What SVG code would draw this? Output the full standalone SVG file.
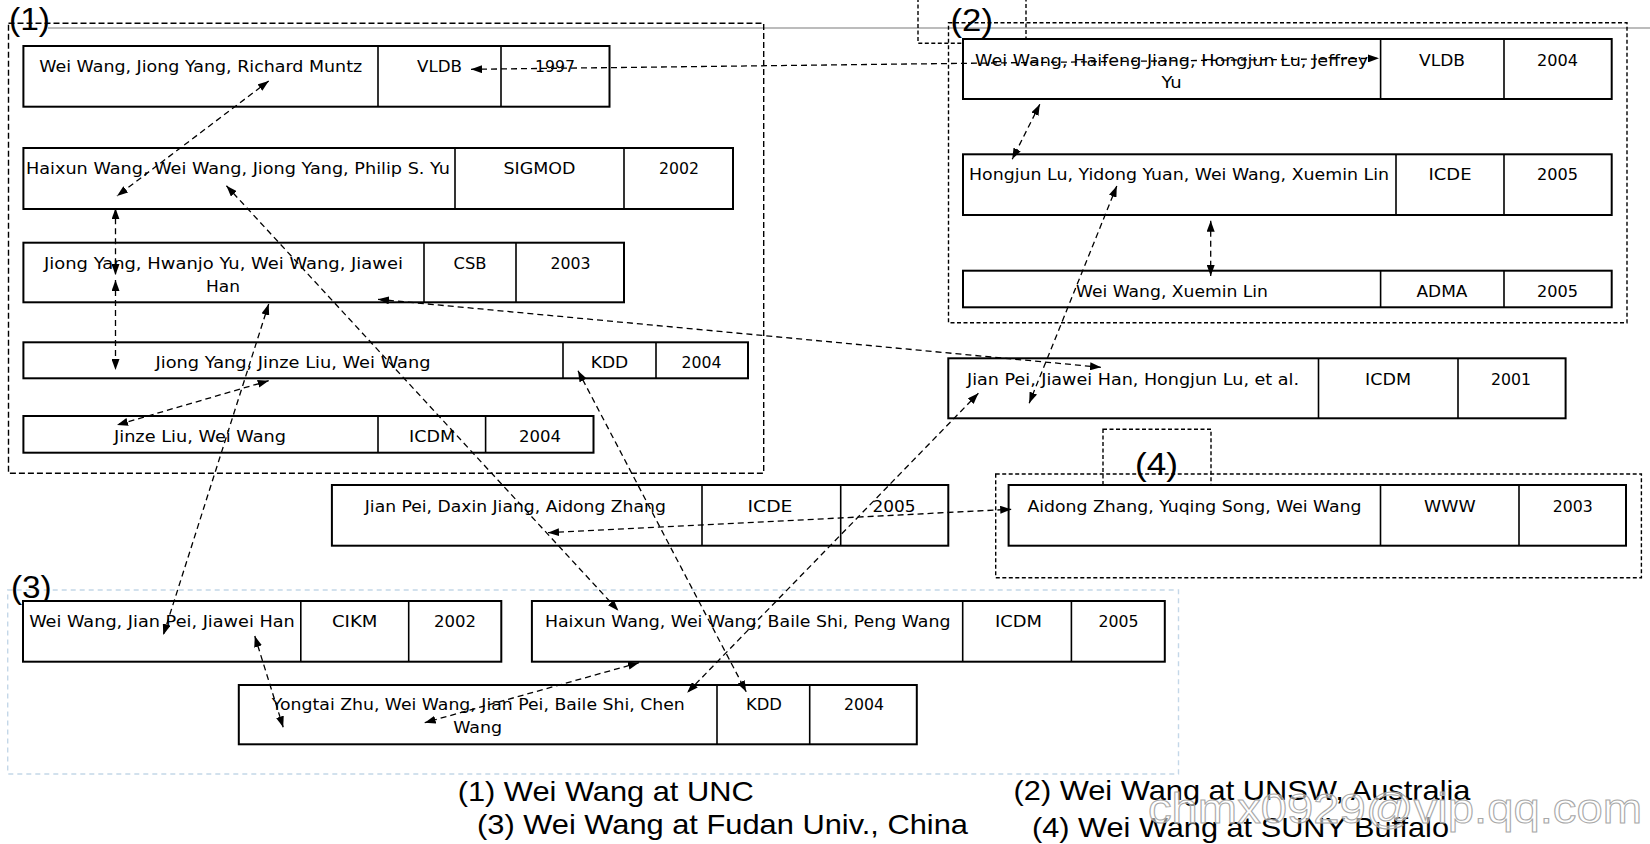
<svg xmlns="http://www.w3.org/2000/svg" width="1650" height="844" viewBox="0 0 1650 844">
<style>
.bg{fill:#fff}
.box{fill:#fff;stroke:#000;stroke-width:2}
.dv{stroke:#000;stroke-width:1.6}
.t{font-family:"DejaVu Sans",Verdana,sans-serif;font-size:16.5px;fill:#000;text-anchor:middle}
.lab{font-family:"Liberation Sans",Arial,sans-serif;font-size:31px;fill:#000}
.cap{font-family:"Liberation Sans",Arial,sans-serif;font-size:28px;fill:#000}
.reg{fill:none;stroke:#000;stroke-width:1.4;stroke-dasharray:6 3}
.reg2{fill:none;stroke:#000;stroke-width:1.4;stroke-dasharray:4 2.5}
.reg3{fill:none;stroke:#c4d7e8;stroke-width:1.4;stroke-dasharray:5 4}
.conn{fill:none;stroke:#000;stroke-width:1.3;stroke-dasharray:6 4;marker-start:url(#ah);marker-end:url(#ah)}
.wm{font-family:"Liberation Sans",Arial,sans-serif;font-size:42px;fill:#ffffff;fill-opacity:0.55;stroke:#a8a8a8;stroke-width:1}
</style>
<defs>
<marker id="ah" viewBox="0 0 11 8" refX="11" refY="4" markerWidth="11" markerHeight="8" markerUnits="userSpaceOnUse" orient="auto-start-reverse">
<path d="M0,0 L11,4 L0,8 z" fill="#000"/>
</marker>
</defs>
<rect class="bg" x="0" y="0" width="1650" height="844"/>
<line x1="48" y1="28" x2="1650" y2="28" stroke="#bcbcbc" stroke-width="2"/>

<g id="region1">
<rect class="reg" x="8.5" y="23.3" width="755.2" height="450"/>
<text class="lab" x="9" y="30" textLength="41" lengthAdjust="spacingAndGlyphs">(1)</text>
</g>
<g id="region2">
<rect class="reg2" x="948.5" y="22.7" width="678.5" height="300"/>
<rect class="reg2" x="918" y="-5" width="108" height="48.3"/>
<text class="lab" x="950.5" y="31" textLength="42.5" lengthAdjust="spacingAndGlyphs">(2)</text>
</g>
<g id="region3">
<rect class="reg3" x="7.7" y="590" width="1170.8" height="184"/>
<text class="lab" x="11" y="598" textLength="40.7" lengthAdjust="spacingAndGlyphs">(3)</text>
</g>
<g id="region4">
<rect class="reg2" x="995.7" y="474" width="645.7" height="103.7"/>
<rect class="reg2" x="1103" y="429.3" width="108" height="56.4"/>
<text class="lab" x="1135" y="475" textLength="43" lengthAdjust="spacingAndGlyphs">(4)</text>
</g>

<g id="n1">
<rect class="box" x="23.4" y="46" width="586.1" height="60.7"/>
<line class="dv" x1="378" y1="46" x2="378" y2="106.7"/>
<line class="dv" x1="501" y1="46" x2="501" y2="106.7"/>
<text class="t" x="200.7" y="71.5" textLength="323" lengthAdjust="spacingAndGlyphs">Wei Wang, Jiong Yang, Richard Muntz</text>
<text class="t" x="439.5" y="71.5" textLength="45" lengthAdjust="spacingAndGlyphs">VLDB</text>
<text class="t" x="555" y="71.5" textLength="40" lengthAdjust="spacingAndGlyphs">1997</text>
</g>
<g id="n2">
<rect class="box" x="23.4" y="148" width="709.6" height="61"/>
<line class="dv" x1="455" y1="148" x2="455" y2="209"/>
<line class="dv" x1="624" y1="148" x2="624" y2="209"/>
<text class="t" x="238" y="174" textLength="424" lengthAdjust="spacingAndGlyphs">Haixun Wang, Wei Wang, Jiong Yang, Philip S. Yu</text>
<text class="t" x="539.5" y="174" textLength="72" lengthAdjust="spacingAndGlyphs">SIGMOD</text>
<text class="t" x="679" y="174" textLength="40" lengthAdjust="spacingAndGlyphs">2002</text>
</g>
<g id="n3">
<rect class="box" x="23.4" y="242.7" width="600.6" height="59.6"/>
<line class="dv" x1="424" y1="242.7" x2="424" y2="302.3"/>
<line class="dv" x1="516" y1="242.7" x2="516" y2="302.3"/>
<text class="t" x="223.5" y="269" textLength="359" lengthAdjust="spacingAndGlyphs">Jiong Yang, Hwanjo Yu, Wei Wang, Jiawei</text>
<text class="t" x="223" y="292" textLength="34" lengthAdjust="spacingAndGlyphs">Han</text>
<text class="t" x="470" y="269" textLength="33" lengthAdjust="spacingAndGlyphs">CSB</text>
<text class="t" x="570.5" y="269" textLength="40" lengthAdjust="spacingAndGlyphs">2003</text>
</g>
<g id="n4">
<rect class="box" x="23.4" y="342.3" width="724.6" height="36"/>
<line class="dv" x1="563" y1="342.3" x2="563" y2="378.3"/>
<line class="dv" x1="656" y1="342.3" x2="656" y2="378.3"/>
<text class="t" x="293" y="367.7" textLength="275" lengthAdjust="spacingAndGlyphs">Jiong Yang, Jinze Liu, Wei Wang</text>
<text class="t" x="609.5" y="367.7" textLength="37.5" lengthAdjust="spacingAndGlyphs">KDD</text>
<text class="t" x="701.5" y="367.7" textLength="40" lengthAdjust="spacingAndGlyphs">2004</text>
</g>
<g id="n5">
<rect class="box" x="23.4" y="416" width="570.1" height="36.7"/>
<line class="dv" x1="378" y1="416" x2="378" y2="452.7"/>
<line class="dv" x1="485.6" y1="416" x2="485.6" y2="452.7"/>
<text class="t" x="200" y="442.3" textLength="172" lengthAdjust="spacingAndGlyphs">Jinze Liu, Wei Wang</text>
<text class="t" x="432" y="442.3" textLength="46" lengthAdjust="spacingAndGlyphs">ICDM</text>
<text class="t" x="540" y="442.3" textLength="42" lengthAdjust="spacingAndGlyphs">2004</text>
</g>

<g id="n6">
<rect class="box" x="963" y="39" width="648.7" height="60"/>
<line class="dv" x1="1380.6" y1="39" x2="1380.6" y2="99"/>
<line class="dv" x1="1504" y1="39" x2="1504" y2="99"/>
<text class="t" x="1171.6" y="65.5" textLength="393" lengthAdjust="spacingAndGlyphs">Wei Wang, Haifeng Jiang, Hongjun Lu, Jeffrey</text>
<text class="t" x="1171.6" y="87.5" textLength="20.4" lengthAdjust="spacingAndGlyphs">Yu</text>
<text class="t" x="1442" y="65.5" textLength="46" lengthAdjust="spacingAndGlyphs">VLDB</text>
<text class="t" x="1557.6" y="65.5" textLength="41" lengthAdjust="spacingAndGlyphs">2004</text>
</g>
<g id="n7">
<rect class="box" x="963" y="154.3" width="648.7" height="60.7"/>
<line class="dv" x1="1396" y1="154.3" x2="1396" y2="215"/>
<line class="dv" x1="1504" y1="154.3" x2="1504" y2="215"/>
<text class="t" x="1179" y="180" textLength="420" lengthAdjust="spacingAndGlyphs">Hongjun Lu, Yidong Yuan, Wei Wang, Xuemin Lin</text>
<text class="t" x="1450" y="180" textLength="43" lengthAdjust="spacingAndGlyphs">ICDE</text>
<text class="t" x="1557.6" y="180" textLength="41" lengthAdjust="spacingAndGlyphs">2005</text>
</g>
<g id="n8">
<rect class="box" x="963" y="270.7" width="648.7" height="36.6"/>
<line class="dv" x1="1380.6" y1="270.7" x2="1380.6" y2="307.3"/>
<line class="dv" x1="1504" y1="270.7" x2="1504" y2="307.3"/>
<text class="t" x="1172" y="296.7" textLength="192" lengthAdjust="spacingAndGlyphs">Wei Wang, Xuemin Lin</text>
<text class="t" x="1442" y="296.7" textLength="51" lengthAdjust="spacingAndGlyphs">ADMA</text>
<text class="t" x="1557.6" y="296.7" textLength="41" lengthAdjust="spacingAndGlyphs">2005</text>
</g>

<g id="n9">
<rect class="box" x="948.3" y="358.3" width="617.3" height="60"/>
<line class="dv" x1="1318.5" y1="358.3" x2="1318.5" y2="418.3"/>
<line class="dv" x1="1458" y1="358.3" x2="1458" y2="418.3"/>
<text class="t" x="1133" y="385" textLength="332" lengthAdjust="spacingAndGlyphs">Jian Pei, Jiawei Han, Hongjun Lu, et al.</text>
<text class="t" x="1388" y="385" textLength="46" lengthAdjust="spacingAndGlyphs">ICDM</text>
<text class="t" x="1511" y="385" textLength="40" lengthAdjust="spacingAndGlyphs">2001</text>
</g>

<g id="n10">
<rect class="box" x="331.9" y="485" width="616.4" height="60.7"/>
<line class="dv" x1="702" y1="485" x2="702" y2="545.7"/>
<line class="dv" x1="840.7" y1="485" x2="840.7" y2="545.7"/>
<text class="t" x="515.3" y="511.7" textLength="301" lengthAdjust="spacingAndGlyphs">Jian Pei, Daxin Jiang, Aidong Zhang</text>
<text class="t" x="770" y="511.7" textLength="45" lengthAdjust="spacingAndGlyphs">ICDE</text>
<text class="t" x="894" y="511.7" textLength="43" lengthAdjust="spacingAndGlyphs">2005</text>
</g>
<g id="n11">
<rect class="box" x="1008.6" y="485" width="617.4" height="60.7"/>
<line class="dv" x1="1380.5" y1="485" x2="1380.5" y2="545.7"/>
<line class="dv" x1="1519" y1="485" x2="1519" y2="545.7"/>
<text class="t" x="1194.5" y="511.7" textLength="334" lengthAdjust="spacingAndGlyphs">Aidong Zhang, Yuqing Song, Wei Wang</text>
<text class="t" x="1449.8" y="511.7" textLength="51.6" lengthAdjust="spacingAndGlyphs">WWW</text>
<text class="t" x="1572.7" y="511.7" textLength="40" lengthAdjust="spacingAndGlyphs">2003</text>
</g>

<g id="n12">
<rect class="box" x="23" y="601" width="478.3" height="60.7"/>
<line class="dv" x1="300.8" y1="601" x2="300.8" y2="661.7"/>
<line class="dv" x1="408.7" y1="601" x2="408.7" y2="661.7"/>
<text class="t" x="162" y="626.5" textLength="265.6" lengthAdjust="spacingAndGlyphs">Wei Wang, Jian Pei, Jiawei Han</text>
<text class="t" x="354.7" y="626.5" textLength="45.5" lengthAdjust="spacingAndGlyphs">CIKM</text>
<text class="t" x="455" y="626.5" textLength="42" lengthAdjust="spacingAndGlyphs">2002</text>
</g>
<g id="n13">
<rect class="box" x="531.9" y="601" width="632.9" height="60.7"/>
<line class="dv" x1="962.7" y1="601" x2="962.7" y2="661.7"/>
<line class="dv" x1="1071.4" y1="601" x2="1071.4" y2="661.7"/>
<text class="t" x="747.7" y="626.5" textLength="405.5" lengthAdjust="spacingAndGlyphs">Haixun Wang, Wei Wang, Baile Shi, Peng Wang</text>
<text class="t" x="1018.5" y="626.5" textLength="47" lengthAdjust="spacingAndGlyphs">ICDM</text>
<text class="t" x="1118.5" y="626.5" textLength="40" lengthAdjust="spacingAndGlyphs">2005</text>
</g>
<g id="n14">
<rect class="box" x="238.8" y="685" width="678" height="59.3"/>
<line class="dv" x1="717" y1="685" x2="717" y2="744.3"/>
<line class="dv" x1="809.7" y1="685" x2="809.7" y2="744.3"/>
<text class="t" x="478.3" y="710" textLength="413" lengthAdjust="spacingAndGlyphs">Yongtai Zhu, Wei Wang, Jian Pei, Baile Shi, Chen</text>
<text class="t" x="477.7" y="733.3" textLength="49" lengthAdjust="spacingAndGlyphs">Wang</text>
<text class="t" x="764" y="710" textLength="36" lengthAdjust="spacingAndGlyphs">KDD</text>
<text class="t" x="864" y="710" textLength="40" lengthAdjust="spacingAndGlyphs">2004</text>
</g>

<g id="connectors">
<line class="conn" x1="471" y1="69.3" x2="1379" y2="58.3"/>
<line class="conn" x1="268.7" y1="81" x2="117" y2="196"/>
<line class="conn" x1="226.4" y1="185.7" x2="618.4" y2="610.7"/>
<line class="conn" x1="115.5" y1="208.3" x2="115.5" y2="275"/>
<line class="conn" x1="115.5" y1="280" x2="115.5" y2="370"/>
<line class="conn" x1="268.7" y1="304" x2="163.3" y2="635"/>
<line class="conn" x1="268.7" y1="380.7" x2="117" y2="425"/>
<line class="conn" x1="578" y1="370.7" x2="746.2" y2="691.7"/>
<line class="conn" x1="378" y1="299.3" x2="1101" y2="367.3"/>
<line class="conn" x1="1039.8" y1="104.3" x2="1012.2" y2="159.3"/>
<line class="conn" x1="1210.7" y1="220.7" x2="1210.7" y2="276"/>
<line class="conn" x1="1116.8" y1="186" x2="1029.2" y2="403.3"/>
<line class="conn" x1="978.4" y1="393.3" x2="687.2" y2="692.7"/>
<line class="conn" x1="548" y1="532.7" x2="1011.2" y2="509.3"/>
<line class="conn" x1="254.8" y1="636" x2="283.2" y2="727.3"/>
<line class="conn" x1="639" y1="662.7" x2="424.7" y2="722.7"/>
</g>

<g id="captions">
<text class="cap" x="457.7" y="801" textLength="296" lengthAdjust="spacingAndGlyphs">(1) Wei Wang at UNC</text>
<text class="cap" x="1013.5" y="799.5" textLength="457" lengthAdjust="spacingAndGlyphs">(2) Wei Wang at UNSW, Australia</text>
<text class="cap" x="477" y="834" textLength="491" lengthAdjust="spacingAndGlyphs">(3) Wei Wang at Fudan Univ., China</text>
<text class="cap" x="1032" y="837.3" textLength="417" lengthAdjust="spacingAndGlyphs">(4) Wei Wang at SUNY Buffalo</text>
<text class="wm" x="1148" y="823" textLength="494" lengthAdjust="spacingAndGlyphs">chmx0929@vip.qq.com</text>
</g>
</svg>
